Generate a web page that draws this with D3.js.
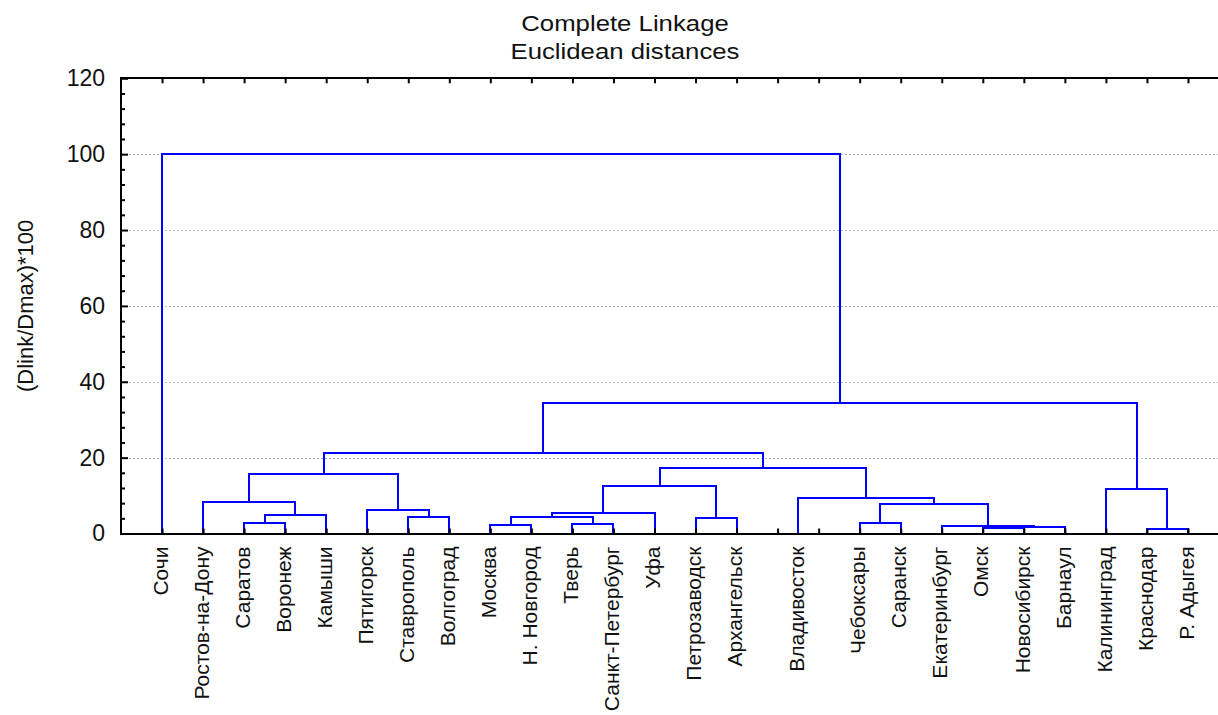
<!DOCTYPE html>
<html>
<head>
<meta charset="utf-8">
<script src="https://cdn.jsdelivr.net/npm/d3@7"></script>
<style>
  body { margin: 0; background: #fff; }
  svg { display: block; font-family: "Liberation Sans", Arial, sans-serif; }
</style>
</head>
<body>
<svg id="chart" width="1218" height="715"></svg>
<script>
// Leaves in dendrogram order and the slot each one occupies on the x axis
const leafNames = [
  "Сочи", "Ростов-на-Дону", "Саратов", "Воронеж", "Камыши", "Пятигорск",
  "Ставрополь", "Волгоград", "Москва", "Н. Новгород", "Тверь", "Санкт-Петербург",
  "Уфа", "Петрозаводск", "Архангельск", "Владивосток", "Чебоксары", "Саранск",
  "Екатеринбург", "Омск", "Новосибирск", "Барнаул", "Калининград", "Краснодар", "Р. Адыгея"
];
const leafSlots = [0, 1, 2, 3, 4, 5, 6, 7, 8, 9, 10, 11, 12, 13, 14, 15.5, 17, 18, 19, 20, 21, 22, 23, 24, 25];
const slotCount = 26;

// Linkage table: merge k joins nodes mergeLeft[k] and mergeRight[k] (ids < 25 are leaves,
// id 25 + k is the cluster produced by merge k) at linkage distance mergeHeight[k]
const mergeLeft   = [23, 19, 26, 18, 8,  10, 2,  16, 13, 6,  29, 31, 35, 5,  32, 1,  15, 22,  37,  40,  43,  44,  46,  0];
const mergeRight  = [24, 20, 21, 27, 9,  11, 3,  17, 14, 7,  30, 4,  12, 34, 28, 36, 39, 25,  33,  38,  41,  45,  42,  47];
const mergeHeight = [1.2, 1.5, 1.6, 2.1, 2.15, 2.6, 2.7, 2.7, 4.0, 4.35, 4.4, 4.8, 5.5, 6.2, 7.65, 8.4, 9.4, 11.65, 12.6, 15.7, 17.2, 21.2, 34.4, 100];

const yTicks = [0, 20, 40, 60, 80, 100, 120];
const yMinorStep = 4;
const yMax = 120;
const titleLines = ["Complete Linkage", "Euclidean distances"];
const yTitle = "(Dlink/Dmax)*100";

const svg = d3.select("#chart");

const x = d3.scaleLinear().domain([-1, slotCount - 1]).range([121, 1188]);
const y = d3.scaleLinear().domain([0, yMax]).range([533.5, 78.3]);

const plotLeft = x(-1), plotRight = x(slotCount), plotTop = y(yMax), plotBottom = y(0);

// Horizontal dotted grid
svg.append("g")
  .selectAll("line")
  .data(yTicks.filter(t => t > 0 && t < yMax))
  .join("line")
  .attr("x1", plotLeft).attr("x2", plotRight)
  .attr("y1", d => Math.round(y(d)) + 0.5).attr("y2", d => Math.round(y(d)) + 0.5)
  .attr("stroke", "#b4b4b4")
  .attr("stroke-width", 1)
  .attr("stroke-dasharray", "2,2");

// Dendrogram links
const nodeX = leafSlots.map(s => x(s));
const nodeH = leafSlots.map(() => 0);
const links = [];
mergeLeft.forEach((l, k) => {
  const r = mergeRight[k], h = mergeHeight[k];
  links.push({ xl: nodeX[l], hl: nodeH[l], xr: nodeX[r], hr: nodeH[r], h });
  nodeX.push((nodeX[l] + nodeX[r]) / 2);
  nodeH.push(h);
});

svg.append("g")
  .selectAll("path")
  .data(links)
  .join("path")
  .attr("d", d => `M${d.xl},${y(d.hl)}V${y(d.h)}H${d.xr}V${y(d.hr)}`)
  .attr("fill", "none")
  .attr("stroke", "#0000ff")
  .attr("stroke-width", 2)
  .attr("shape-rendering", "crispEdges");

// Frame
svg.append("rect")
  .attr("x", plotLeft).attr("y", plotTop)
  .attr("width", plotRight - plotLeft).attr("height", plotBottom - plotTop)
  .attr("fill", "none")
  .attr("stroke", "#000")
  .attr("stroke-width", 2)
  .attr("shape-rendering", "crispEdges");

// Slot ticks along bottom and top edges (pointing inward)
const slotIdx = d3.range(slotCount);
const bottomAxis = d3.axisBottom(x).tickValues(slotIdx).tickSize(-5).tickFormat("");
const topAxis = d3.axisTop(x).tickValues(slotIdx).tickSize(-5).tickFormat("");
[svg.append("g").attr("transform", `translate(0,${plotBottom})`).call(bottomAxis),
 svg.append("g").attr("transform", `translate(0,${plotTop})`).call(topAxis)]
  .forEach(g => {
    g.select(".domain").remove();
    g.selectAll(".tick line").attr("stroke", "#000").attr("stroke-width", 2);
  });

// Left axis: minor ticks, then major ticks with labels
const minorTicks = d3.range(0, yMax + 0.01, yMinorStep).filter(v => !yTicks.includes(v));
const gMinor = svg.append("g").attr("transform", `translate(${plotLeft},0)`)
  .call(d3.axisLeft(y).tickValues(minorTicks).tickSize(-4).tickFormat(""));
gMinor.select(".domain").remove();
gMinor.selectAll(".tick line").attr("stroke", "#000").attr("stroke-width", 2);

const gMajor = svg.append("g").attr("transform", `translate(${plotLeft},0)`)
  .call(d3.axisLeft(y).tickValues(yTicks).tickSize(-7).tickPadding(16).tickFormat(d3.format("d")));
gMajor.select(".domain").remove();
gMajor.selectAll(".tick line").attr("stroke", "#000").attr("stroke-width", 2);
gMajor.selectAll(".tick text")
  .attr("font-family", "'Liberation Sans', Arial, sans-serif")
  .attr("font-size", 23)
  .attr("fill", "#111");

// Leaf labels, rotated
svg.append("g")
  .selectAll("text")
  .data(leafNames)
  .join("text")
  .attr("transform", (d, i) => `translate(${x(leafSlots[i])},${plotBottom + 13}) rotate(-90)`)
  .attr("dy", "0.27em")
  .attr("text-anchor", "end")
  .attr("font-size", 21)
  .attr("fill", "#111")
  .text(d => d);

// Y axis title
svg.append("text")
  .attr("transform", `translate(33,${(plotTop + plotBottom) / 2}) rotate(-90)`)
  .attr("text-anchor", "middle")
  .attr("font-size", 22)
  .attr("fill", "#111")
  .text(yTitle);

// Chart title
const gTitle = svg.append("g").attr("transform", "translate(625,0) scale(1.12,1)");
gTitle.selectAll("text")
  .data(titleLines)
  .join("text")
  .attr("x", 0)
  .attr("y", (d, i) => 31.5 + i * 27.8)
  .attr("text-anchor", "middle")
  .attr("font-size", 23)
  .attr("fill", "#111")
  .text(d => d);
</script>
</body>
</html>
